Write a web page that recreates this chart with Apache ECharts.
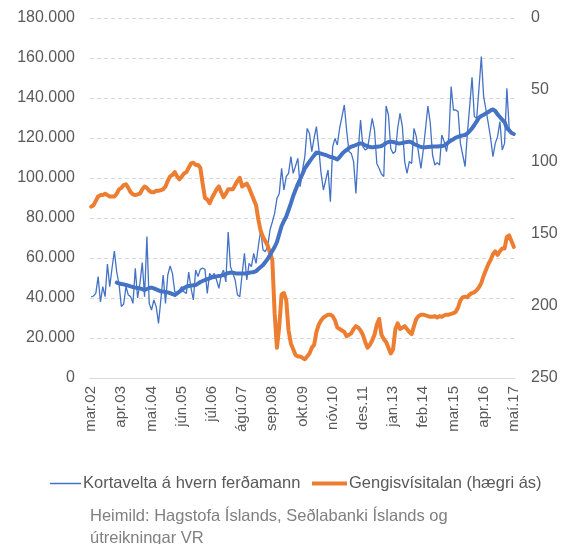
<!DOCTYPE html>
<html>
<head>
    <meta charset="UTF-8">
    <title>kortavelta</title>
    <script src="https://cdn.jsdelivr.net/npm/echarts@6/dist/echarts.min.js"></script>
    <style>
        *{margin:0;padding:0}
        html,body{width:100%;height:100%;background:#fff}
        #main{width:569px;height:544px}
    </style>
</head>
<body>
<div id="main"></div>
<script type="text/javascript">
    // manuðir, mar.02 - maí.17
    var monthNames = ['jan','feb','mar','apr','maí','jún','júl','ágú','sep','okt','nóv','des'];
    var startYear = 2002, startMonth = 2, monthCount = 183;

    // kortavelta á hvern ferðamann (kr.)
    var kortavelta = [
        40500, 41000, 42300, 50700, 38000, 45700, 40700, 57000, 45700, 55000,
        63500, 53000, 47000, 35700, 37000, 45700, 41500, 40700, 37300, 54800,
        40000, 47300, 57700, 40700, 70700, 37300, 34000, 39000, 35700, 27300,
        39000, 51500, 37300, 51500, 56000, 52300, 43200, 42300, 44000, 45700,
        43000, 42300, 53000, 45000, 39000, 54000, 50700, 54300, 55000, 54300,
        42300, 52300, 50700, 52300, 49000, 44800, 51500, 54000, 48000, 73000,
        55700, 52300, 49000, 41500, 40700, 52000, 62300, 49000, 57300, 55700,
        62300, 57300, 66000, 74000, 64000, 63200, 65700, 74000, 78000, 82300,
        89800, 92300, 104800, 94000, 100700, 102300, 110700, 102300, 106000, 109800,
        95700, 104000, 110700, 124800, 122300, 113200, 120000, 125700, 114800, 102300,
        94000, 99000, 104000, 88200, 115700, 119800, 116500, 125000, 130700, 136500,
        124000, 113200, 112300, 108200, 92300, 114000, 129000, 115700, 114000, 114800,
        122000, 129800, 124000, 107300, 104800, 102000, 100700, 136000, 131500, 114800,
        112300, 113200, 125000, 132300, 125700, 108200, 102300, 108200, 107300, 124800,
        120700, 112300, 104800, 114000, 125000, 136000, 127700, 111500, 106500, 107700,
        106500, 121500, 118200, 113200, 120000, 145700, 134000, 134000, 133200, 117300,
        111500, 105700, 122300, 136000, 150300, 130700, 129800, 145000, 160700, 140700,
        134000, 127300, 120000, 110700, 117300, 120700, 128200, 114000, 117300, 144800,
        124800, 123000, 122300
    ];

    // hlaupandi meðaltal (lesið af mynd)
    var medaltal = [
        null, null, null, null, null, null, null, null, null, null,
        null, 47700, 47300, 47000, 46800, 46500, 46200, 45800, 45500, 45200,
        45000, 44800, 44400, 44000, 44500, 45000, 45200, 44800, 44300, 43800,
        43300, 43200, 43000, 42800, 42400, 42000, 41500, 42300, 43200, 44000,
        45000, 45700, 46000, 46200, 46400, 46500, 47200, 48000, 48500, 49000,
        49400, 49800, 50300, 50500, 50800, 51000, 51200, 51500, 52000, 52500,
        52700, 52600, 52400, 52300, 52200, 52200, 52300, 52400, 52600, 52800,
        53000, 53400, 54500, 55500, 56500, 58000, 59500, 61500, 63500, 65500,
        68000, 72000, 76000, 78500, 80700, 84000, 87300, 91000, 94000, 97000,
        99500, 102000, 104800, 106500, 108200, 109800, 111300, 112700, 112500, 112200,
        111800, 111500, 111000, 110500, 110300, 109800, 109300, 110500, 112000, 113200,
        114000, 115000, 115700, 116000, 116500, 117000, 117300, 117000, 116300, 116000,
        115500, 115300, 115500, 115600, 115700, 116000, 116700, 117500, 118000, 118200,
        118000, 117700, 117400, 117300, 117500, 117800, 118000, 118200, 117800, 117000,
        116500, 116000, 115500, 115300, 115400, 115500, 115600, 115700, 115800, 115800,
        115900, 116000, 116200, 117000, 118000, 118800, 119400, 120200, 120600, 121000,
        121300, 121500, 122300, 123500, 124800, 126500, 128300, 130200, 131000, 131600,
        132300, 133000, 133800, 134300, 133500, 131800, 130500, 129200, 128000, 125000,
        123800, 122500, 122000
    ];

    // gengisvísitala (hægri ás)
    var gengisvisitala = [
        131, 130, 127, 124, 123, 123, 122, 123, 124, 124,
        124, 122, 119, 118, 116, 115.5, 118, 121, 122.5, 123,
        122.5, 122, 119, 117, 118, 120, 121, 121, 120, 120,
        119.5, 119, 117, 113, 110, 109, 107, 110, 112, 110,
        108, 107, 104, 101, 100.5, 102, 102, 104, 115, 125,
        126, 128.7, 125, 122, 119, 117, 121, 124.5, 122, 119,
        119, 119, 116, 113, 111, 117, 116, 115, 118, 122,
        126, 130, 140, 148, 152, 155, 158, 163, 168, 205,
        229, 214, 192, 191, 196, 217, 226, 230, 234, 235,
        235, 236, 237, 235, 233, 229, 227, 218, 213, 210,
        208, 207, 206, 206, 207, 210, 215, 216, 217, 218,
        221, 220, 219, 216, 214, 215, 217, 220, 225, 229,
        227, 224, 220, 213, 209, 220, 223, 225, 229, 233,
        230, 216, 212, 216, 215, 214, 216, 218, 219.5, 214,
        209, 207, 206, 206, 206.5, 207, 207.5, 207.5, 207, 208,
        207, 207.5, 206.5, 206, 206, 205.5, 205, 204, 201, 196,
        194, 193.5, 194, 192, 191, 190.5, 189, 187, 184, 179,
        175, 171, 168, 164, 162, 164.5, 162, 160, 160, 152,
        151, 155, 159
    ];

    var leftTicks = {min: 0, max: 180000, interval: 20000};
    var rightTicks = {min: 0, max: 250, interval: 50};

    var categories = [];
    for (var i = 0; i < monthCount; i++) {
        var m = (startMonth + i) % 12;
        var y = startYear + Math.floor((startMonth + i) / 12);
        categories.push(monthNames[m] + '.' + String(y).slice(2));
    }

    function thousands(v) {
        return String(v).replace(/\B(?=(\d{3})+(?!\d))/g, '.');
    }

    var txt = '#595959';
    var fontFam = 'Liberation Sans, Arial, sans-serif';

    var myChart = echarts.init(document.getElementById('main'));
    var option = {
        animation: false,
        grid: {left: 90, right: 54, top: 18, bottom: 166},
        legend: [
            {
                data: [{name: 'Kortavelta á hvern ferðamann', icon: 'rect'}],
                left: 45, top: 470,
                itemWidth: 31, itemHeight: 1.5,
                textStyle: {color: txt, fontSize: 16.5, fontFamily: fontFam, padding: [0, 0, 0, -3]}
            },
            {
                data: [{name: 'Gengisvísitalan (hægri ás)', icon: 'rect'}],
                left: 307, top: 470,
                itemWidth: 35, itemHeight: 4,
                textStyle: {color: txt, fontSize: 16.5, fontFamily: fontFam, padding: [0, 0, 0, -3]}
            }
        ],
        graphic: [
            {
                type: 'text', left: 90, top: 505,
                style: {
                    text: 'Heimild: Hagstofa Íslands, Seðlabanki Íslands og\nútreikningar VR',
                    fill: '#808080', fontSize: 16.5, lineHeight: 22, fontFamily: fontFam
                }
            }
        ],
        xAxis: {
            type: 'category',
            data: categories,
            axisTick: {show: false},
            axisLine: {lineStyle: {color: '#d9d9d9', width: 1}},
            axisLabel: {
                interval: 12, rotate: 90, margin: 8,
                color: txt, fontSize: 15, fontFamily: fontFam
            }
        },
        yAxis: [
            {
                type: 'value',
                min: leftTicks.min, max: leftTicks.max, interval: leftTicks.interval,
                axisLine: {show: false},
                axisTick: {show: false},
                splitLine: {lineStyle: {color: '#d9d9d9', type: [4, 3]}},
                axisLabel: {
                    margin: 15, color: txt, fontSize: 16, fontFamily: fontFam,
                    formatter: function (v) { return thousands(v); }
                }
            },
            {
                type: 'value',
                inverse: true,
                min: rightTicks.min, max: rightTicks.max, interval: rightTicks.interval,
                axisLine: {show: false},
                axisTick: {show: false},
                splitLine: {show: false},
                axisLabel: {margin: 16, color: txt, fontSize: 16, fontFamily: fontFam}
            }
        ],
        series: [
            {
                name: 'Kortavelta á hvern ferðamann',
                type: 'line',
                data: kortavelta,
                symbol: 'none',
                lineStyle: {color: '#4472c4', width: 1.3},
                itemStyle: {color: '#4472c4'},
                z: 2
            },
            {
                name: 'Gengisvísitalan (hægri ás)',
                type: 'line',
                yAxisIndex: 1,
                data: gengisvisitala,
                symbol: 'none',
                lineStyle: {color: '#ed7d31', width: 4, join: 'round', cap: 'round'},
                itemStyle: {color: '#ed7d31'},
                z: 3
            },
            {
                name: 'Meðaltal',
                type: 'line',
                data: medaltal,
                symbol: 'none',
                lineStyle: {color: '#4472c4', width: 4, join: 'round', cap: 'round'},
                itemStyle: {color: '#4472c4'},
                z: 4
            }
        ]
    };
    myChart.setOption(option);
</script>
</body>
</html>
